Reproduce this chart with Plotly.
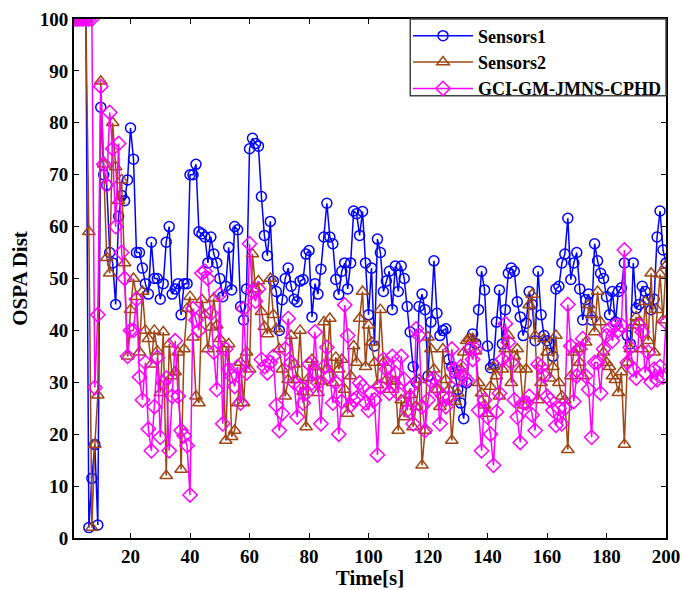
import plotly.graph_objects as go

time_s = list(range(1, 201))

sensors1 = [
    100, 100, 100, 100, 100, 2, 11.5, 18, 2.5, 83,
    70, 68, 55, 53, 45, 62, 66, 65, 69, 79,
    73, 55, 55, 52, 49, 47, 57, 50, 50, 46,
    49, 57, 60, 47, 48, 49, 43, 49, 49, 70,
    70, 72, 59, 58.6, 58, 53, 58, 54.7, 53, 50,
    46.5, 48.5, 56, 47.8, 60, 59.4, 44.6, 42, 48, 75,
    77, 76, 75.5, 65.8, 58.3, 54.4, 61, 49.5, 47.5, 40,
    45.9, 50, 52, 48.5, 46, 45.5, 49.5, 49.8, 54.7, 55.4,
    42.6, 49, 47, 51.8, 58, 64.5, 58, 56.7, 49.8, 46.9,
    51.4, 53, 48, 53, 63, 62.5, 58.3, 62.9, 53, 43,
    52, 37, 57.6, 55, 47.5, 49.5, 51.4, 44, 52.4, 47.5,
    52.4, 50, 44.6, 39.7, 33, 30, 44.6, 47, 44, 31.2,
    41.6, 53.4, 43.3, 39, 40, 40.3, 34.4, 33, 31.8, 28.6,
    26, 23, 29.9, 36.4, 39.3, 37.5, 44, 51.4, 47.8, 37,
    32.8, 33.5, 41.6, 47.8, 37.4, 44, 51, 52, 51.4, 45.5,
    42.6, 39, 41.4, 47.5, 45, 38, 51.4, 43, 39, 38,
    37.5, 35, 48, 48.5, 53, 54.7, 61.6, 49.8, 53, 55,
    48, 42, 45.9, 47, 42, 56.7, 53.4, 51, 50, 46.5,
    43, 47.5, 41.6, 47.5, 48.2, 53, 39, 37.4, 53, 44.2,
    45, 48.5, 47.5, 46, 44, 46, 58, 63, 55.5, 53,
]

sensors2 = [
    100, 100, 100, 100, 100, 59, 2, 18, 27.5, 88,
    72, 54, 51, 80, 71.5, 65, 69, 53, 35, 44,
    50, 46.5, 35.8, 47.5, 40, 38.4, 33.5, 40, 36, 28,
    39.7, 12, 37.4, 31.2, 32, 35.8, 13.2, 36.4, 44.2, 46.5,
    38.7, 27.3, 26, 45.9, 43, 36.4, 40.6, 46.2, 41, 38.4,
    36.4, 18.8, 37.4, 19.5, 20.7, 26, 33.8, 26, 35.8, 32.5,
    54.7, 48, 49.5, 43.6, 40.7, 39.3, 50, 43, 40.3, 36.4,
    32.5, 27.3, 30.5, 39, 33.5, 30.5, 40, 28.2, 21.4, 30.9,
    34.4, 33, 28, 30.2, 41.6, 32.5, 42.3, 29.9, 34.8, 32.5,
    34.4, 28.6, 24, 31.2, 37, 33.8, 42.3, 47.5, 33, 41,
    37.7, 33.8, 29.5, 44, 33.8, 30.5, 28.6, 30.2, 30.2, 20.7,
    26.6, 23.3, 26, 27.6, 21.4, 25.3, 30.5, 14, 20.7, 38.7,
    36.4, 32.5, 28.6, 25.3, 36.4, 30.5, 28.6, 18.8, 26.3, 27.9,
    32.5, 35.8, 38, 38.4, 38.4, 36, 29.9, 27.9, 25.6, 24,
    29.2, 33, 31.2, 27.3, 32.5, 36.4, 39, 29.9, 35, 36.4,
    32.5, 25.6, 32.5, 44.9, 46.9, 39, 26.6, 29.9, 38.4, 35.8,
    30.8, 33, 39, 29.9, 27.3, 26.6, 17, 31.2, 35.8, 36.4,
    33.8, 31.2, 37.7, 44.9, 43, 39.7, 47.5, 41.6, 35.8, 33.8,
    33, 31.2, 30.5, 28, 32, 18, 33.8, 36.4, 41, 42.6,
    41.6, 36.4, 45.5, 38, 51, 35.8, 44, 50.8, 42, 52.5,
]

gci = [
    100, 100, 100, 100, 100, 100, 100, 29, 43, 87,
    72, 68, 82, 75, 60, 76, 55, 50, 35, 40,
    40, 46, 31, 26.6, 33.8, 21, 16.8, 25.3, 34.8, 19.4,
    29.9, 30.8, 16.8, 27.3, 38, 27.3, 20.7, 19.7, 17.8, 8.3,
    44.2, 42, 40, 51, 51.4, 50, 43.3, 35.8, 28.6, 46.9,
    22, 36.4, 32.5, 31.2, 29.2, 33, 26, 44.2, 31.8, 56.7,
    47.5, 45.6, 48, 34.4, 33, 31.8, 33.8, 35, 25.6, 20.7,
    24, 36.4, 42.3, 33.8, 29.9, 23.3, 29.2, 26, 27.9, 33.5,
    29.9, 39.7, 29.9, 22, 33, 36.7, 31.2, 26, 29.9, 20,
    26.3, 44.9, 39, 25.6, 26.6, 27, 29.9, 29.2, 26, 24.6,
    27.9, 26.6, 16, 29.2, 34.4, 32.5, 27.9, 35, 31.8, 27.9,
    35, 30.5, 24.6, 28.9, 22, 40.3, 39, 25.3, 20.7, 26.6,
    30.2, 30.8, 28.6, 22, 27.3, 25.3, 27, 36.4, 32.5, 30.5,
    33, 31.2, 30.5, 36.4, 34.4, 36.4, 24.6, 16.8, 26.6, 23.3,
    20, 14, 24.3, 27.9, 34.4, 41.3, 37.7, 33.8, 26.6, 23.3,
    18.4, 26, 26, 27.3, 23.7, 20.7, 33.5, 33, 31.2, 27.3,
    26.6, 24.6, 21.7, 25, 22, 25, 45, 37, 26.3, 31.2,
    36.4, 38.4, 31.2, 28.6, 19.4, 33.8, 33.8, 27.9, 36.4, 39,
    40.3, 38, 41, 40, 41, 55.5, 33.8, 36.7, 32.5, 30.8,
    41, 39.7, 31.8, 35.8, 30, 32.5, 30.5, 33, 31, 41.5,
]

FONT = "Liberation Serif, Times New Roman, serif"

fig = go.Figure()
fig.add_trace(go.Scatter(
    x=time_s, y=sensors1, name="<b>Sensors1</b>", mode="lines+markers",
    line=dict(color="rgb(0,0,255)", width=1.5),
    marker=dict(symbol="circle-open", size=10, color="rgb(0,0,255)", line=dict(width=1.5)),
))
fig.add_trace(go.Scatter(
    x=time_s, y=sensors2, name="<b>Sensors2</b>", mode="lines+markers",
    line=dict(color="rgb(160,70,20)", width=1.5),
    marker=dict(symbol="triangle-up-open", size=11, color="rgb(160,70,20)", line=dict(width=1.5)),
))
fig.add_trace(go.Scatter(
    x=time_s, y=gci, name="<b>GCI-GM-JMNS-CPHD</b>", mode="lines+markers",
    line=dict(color="rgb(255,0,255)", width=1.5),
    marker=dict(symbol="diamond-open", size=11, color="rgb(255,0,255)", line=dict(width=1.5)),
))

axis_common = dict(
    showline=True, linecolor="black", linewidth=2, mirror="ticks",
    ticks="inside", ticklen=5, tickwidth=1, tickcolor="black",
    showgrid=False, zeroline=False, automargin=False,
    tickfont=dict(family=FONT, size=19, color="black", weight="bold"),
)

fig.update_layout(
    width=681, height=590,
    margin=dict(l=74, r=15, t=19, b=52, autoexpand=False),
    paper_bgcolor="white", plot_bgcolor="white",
    font=dict(family=FONT, size=18, color="black"),
    xaxis=dict(range=[1, 200], tickvals=list(range(20, 201, 20)),
               title=dict(text="<b>Time[s]</b>", font=dict(family=FONT, size=21), standoff=6),
               **axis_common),
    yaxis=dict(range=[0, 100], tickvals=list(range(0, 101, 10)),
               title=dict(text="<b>OSPA Dist</b>", font=dict(family=FONT, size=21), standoff=6),
               **axis_common),
    legend=dict(x=1, y=1.003, xanchor="right", yanchor="top",
                bgcolor="rgba(0,0,0,0)", borderwidth=0,
                font=dict(family=FONT, size=18, color="black"),
                itemwidth=60, tracegroupgap=0),
    shapes=[dict(type="rect", xref="paper", yref="paper",
                 x0=0.568, x1=1.0, y0=0.852, y1=1.0,
                 fillcolor="white", line=dict(color="#444444", width=1.5),
                 layer="above")],
)

fig.write_html("out.html")
